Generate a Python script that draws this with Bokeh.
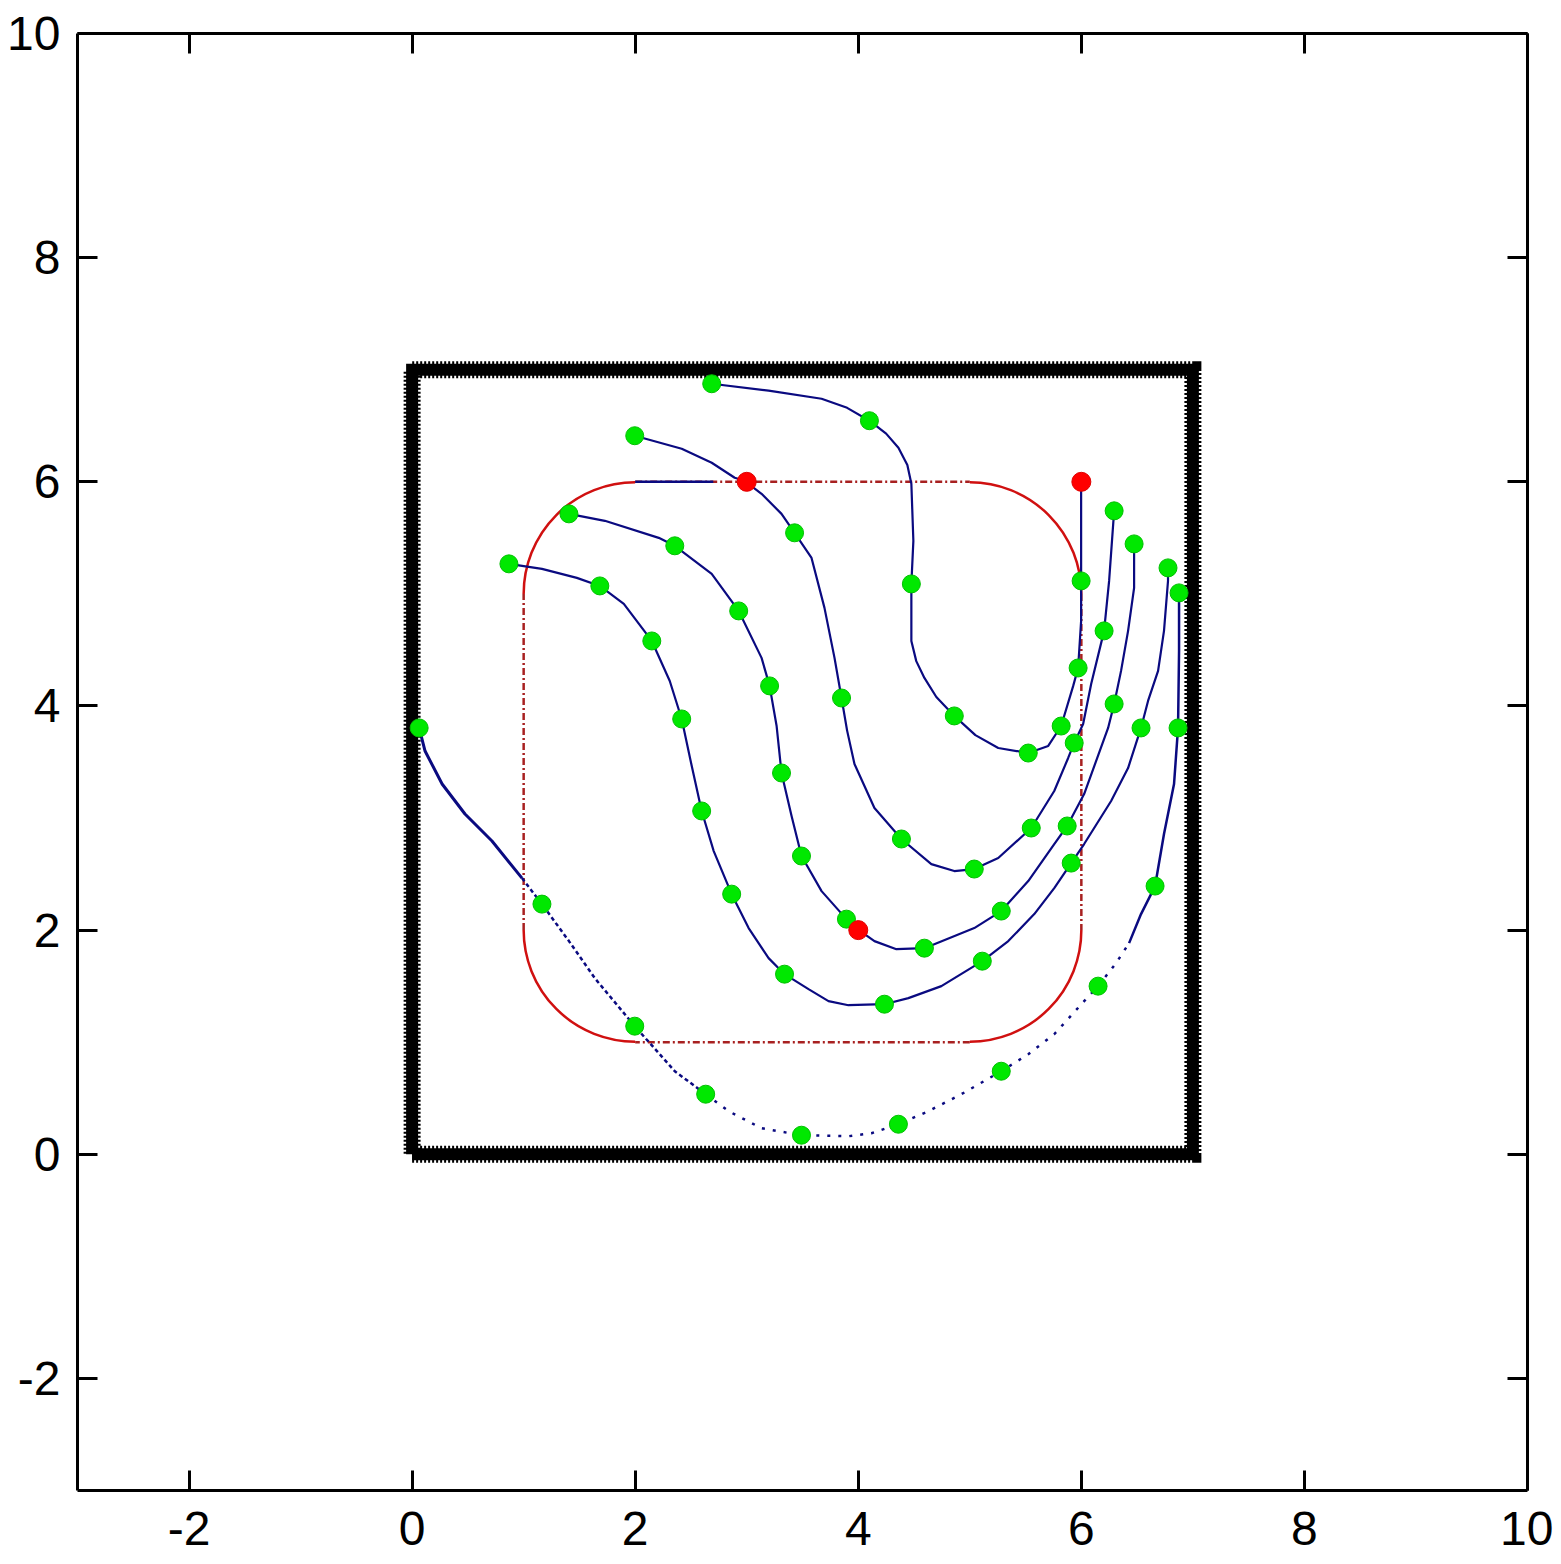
from bokeh.plotting import figure
from bokeh.models import Range1d, LinearAxis, FixedTicker
from bokeh.embed import file_html
from bokeh.resources import INLINE

# ---------------- data ----------------
ticks = [-2, 0, 2, 4, 6, 8, 10]
tick_labels = {-2: "-2"}

# boundary square
sq_x = [0, 7, 7, 0, 0]
sq_y = [0, 0, 7, 7, 0]

# rounded rectangle (corner arcs + straight edges)
arc_cx = [2, 5, 5, 2]
arc_cy = [5, 5, 2, 2]
arc_r = 1
arc_start = [1.5708, 0.0, -1.5708, 3.14159]   # radians
arc_end = [3.14159, 1.5708, 0.0, 4.71239]
edge_x0 = [2, 6, 5, 1]
edge_y0 = [6, 5, 1, 2]
edge_x1 = [5, 6, 2, 1]
edge_y1 = [6, 2, 1, 5]

# leader segment along the top edge
lead_x = [2.0, 2.7]
lead_y = [6.0, 6.0]

# trajectories
a_x = [2.686, 3.196, 3.671, 3.900, 4.100, 4.250, 4.360, 4.440, 4.476, 4.494, 4.476, 4.476, 4.520, 4.593, 4.700, 4.861, 5.050, 5.255, 5.524, 5.703, 5.819, 5.927, 5.971, 5.998, 5.998, 5.998]
a_y = [6.875, 6.813, 6.741, 6.660, 6.545, 6.430, 6.304, 6.150, 5.982, 5.473, 5.089, 4.580, 4.400, 4.250, 4.080, 3.911, 3.740, 3.625, 3.580, 3.643, 3.821, 4.179, 4.339, 4.759, 5.116, 6.009]

b_x = [1.996, 2.417, 2.686, 2.892, 2.981, 3.133, 3.312, 3.429, 3.581, 3.697, 3.787, 3.850, 3.900, 3.966, 4.145, 4.387, 4.655, 4.861, 5.040, 5.255, 5.551, 5.757, 5.882, 5.936, 6.016, 6.088, 6.204, 6.249, 6.294]
b_y = [6.411, 6.295, 6.170, 6.036, 6.009, 5.893, 5.714, 5.545, 5.321, 4.875, 4.429, 4.071, 3.780, 3.482, 3.089, 2.813, 2.589, 2.527, 2.545, 2.643, 2.911, 3.241, 3.536, 3.670, 3.839, 4.196, 4.670, 5.116, 5.741]

c_x = [1.406, 1.728, 2.211, 2.355, 2.686, 2.928, 3.133, 3.205, 3.268, 3.312, 3.402, 3.491, 3.671, 3.894, 3.993, 4.145, 4.342, 4.593, 5.040, 5.282, 5.524, 5.757, 5.873, 6.025, 6.240, 6.294, 6.356, 6.419, 6.473, 6.473]
c_y = [5.714, 5.652, 5.500, 5.429, 5.179, 4.848, 4.429, 4.179, 3.821, 3.402, 3.018, 2.661, 2.348, 2.098, 2.009, 1.902, 1.830, 1.839, 2.018, 2.170, 2.438, 2.768, 2.929, 3.214, 3.804, 4.018, 4.313, 4.670, 5.054, 5.446]

d_x = [0.868, 1.164, 1.477, 1.683, 1.898, 2.149, 2.310, 2.417, 2.507, 2.596, 2.704, 2.865, 3.017, 3.196, 3.339, 3.554, 3.733, 3.912, 4.235, 4.449, 4.745, 5.112, 5.345, 5.578, 5.757, 5.909, 6.025, 6.267, 6.419, 6.535, 6.598, 6.688, 6.741, 6.777, 6.777]
d_y = [5.268, 5.223, 5.143, 5.071, 4.911, 4.580, 4.223, 3.884, 3.464, 3.063, 2.705, 2.321, 2.018, 1.750, 1.607, 1.473, 1.366, 1.330, 1.339, 1.393, 1.500, 1.723, 1.902, 2.143, 2.375, 2.598, 2.768, 3.152, 3.446, 3.804, 4.045, 4.313, 4.670, 5.116, 5.232]

e_x = [0.063, 0.116, 0.269, 0.474, 0.716, 0.985, 1.164, 1.406, 1.638, 1.996, 2.355, 2.632, 2.838, 3.133, 3.491, 3.912, 4.118, 4.360, 4.628, 4.924, 5.282, 5.524, 5.757, 6.025, 6.150, 6.311, 6.428, 6.535, 6.661, 6.741, 6.831, 6.867, 6.876, 6.876]
e_y = [3.804, 3.598, 3.304, 3.036, 2.795, 2.464, 2.232, 1.902, 1.571, 1.143, 0.741, 0.536, 0.384, 0.232, 0.170, 0.161, 0.188, 0.268, 0.384, 0.536, 0.741, 0.893, 1.071, 1.366, 1.500, 1.705, 1.884, 2.143, 2.393, 2.857, 3.304, 3.804, 4.491, 5.009]

# sampled positions (green) and leader positions (red)
green_x = [2.686, 4.100, 4.476, 4.861, 5.524, 5.819, 5.971, 5.998,
           1.996, 3.429, 3.850, 4.387, 5.040, 5.551, 5.936, 6.204, 6.294,
           1.406, 2.355, 2.928, 3.205, 3.312, 3.491, 3.894, 4.593, 5.282, 5.873, 6.294, 6.473,
           0.868, 1.683, 2.149, 2.417, 2.596, 2.865, 3.339, 4.235, 5.112, 5.909, 6.535, 6.777,
           0.063, 1.164, 1.996, 2.632, 3.491, 4.360, 5.282, 6.150, 6.661, 6.867, 6.876]
green_y = [6.875, 6.545, 5.089, 3.911, 3.580, 3.821, 4.339, 5.116,
           6.411, 5.545, 4.071, 2.813, 2.545, 2.911, 3.670, 4.670, 5.741,
           5.714, 5.429, 4.848, 4.179, 3.402, 2.661, 2.098, 1.839, 2.170, 2.929, 4.018, 5.446,
           5.268, 5.071, 4.580, 3.884, 3.063, 2.321, 1.607, 1.339, 1.723, 2.598, 3.804, 5.232,
           3.804, 2.232, 1.143, 0.536, 0.170, 0.268, 0.741, 1.500, 2.393, 3.804, 5.009]
red_x = [3, 6, 4]
red_y = [6, 6, 2]

# ---------------- styles ----------------
BLUE = "#0a0a80"
RED = "#d01010"
DRED = "#a82020"
GREEN = "#00e800"
FONT = "Liberation Sans"

p = figure(width=1553, height=1564, x_range=Range1d(-3, 10), y_range=Range1d(-3, 10),
           output_backend="svg", toolbar_location=None,
           min_border_left=77, min_border_right=26, min_border_top=33, min_border_bottom=74)
p.grid.visible = False
p.outline_line_color = None
p.background_fill_color = "white"
p.border_fill_color = "white"


def style_axis(ax, labels=True):
    ax.ticker = FixedTicker(ticks=ticks)
    ax.major_tick_in = 20
    ax.major_tick_out = 0
    ax.minor_tick_line_color = None
    ax.axis_line_width = 3
    ax.axis_line_color = "black"
    ax.major_tick_line_width = 3
    ax.major_tick_line_color = "black"
    if labels:
        ax.major_label_text_font = FONT
        ax.major_label_text_font_size = "48px"
        ax.major_label_text_color = "black"
        ax.major_label_overrides = tick_labels
    else:
        ax.major_label_text_font_size = "1px"
        ax.major_label_text_color = None
        ax.major_label_standoff = 0


style_axis(p.xaxis[0])
style_axis(p.yaxis[0])
p.xaxis[0].major_label_standoff = 21
p.yaxis[0].major_label_standoff = 17

top_ax = LinearAxis()
right_ax = LinearAxis()
style_axis(top_ax, labels=False)
style_axis(right_ax, labels=False)
p.add_layout(top_ax, "above")
p.add_layout(right_ax, "right")

# rounded rectangle
p.segment(x0=edge_x0, y0=edge_y0, x1=edge_x1, y1=edge_y1, line_color=DRED, line_width=2.5,
          line_dash="7 3 2 3")
p.arc(x=arc_cx, y=arc_cy, radius=arc_r, start_angle=arc_start, end_angle=arc_end,
      line_color=RED, line_width=2.5)

# trajectories
p.line(lead_x, lead_y, line_color=BLUE, line_width=2.5)
for xs, ys in [(a_x, a_y), (b_x, b_y), (c_x, c_y), (d_x, d_y)]:
    p.line(xs, ys, line_color=BLUE, line_width=2.2)
p.line(e_x[:6], e_y[:6], line_color=BLUE, line_width=3)
p.line(e_x[5:12], e_y[5:12], line_color=BLUE, line_width=2.5, line_dash="4 3")
p.line(e_x[11:27], e_y[11:27], line_color=BLUE, line_width=2.5, line_dash="3 8")
p.line(e_x[26:], e_y[26:], line_color=BLUE, line_width=2.5)

# boundary square
p.line(sq_x, sq_y, line_color="black", line_width=12, line_join="miter")
p.line(sq_x, sq_y, line_color="black", line_width=17, line_dash="2 2", line_join="miter")

# markers
p.scatter(green_x, green_y, marker="circle", size=18, fill_color=GREEN, line_color="#00c000",
          line_width=1)
p.scatter(red_x, red_y, marker="circle", size=19, fill_color="#ff0000", line_color="#e00000",
          line_width=1)

open("out.html", "w").write(file_html(p, INLINE))
